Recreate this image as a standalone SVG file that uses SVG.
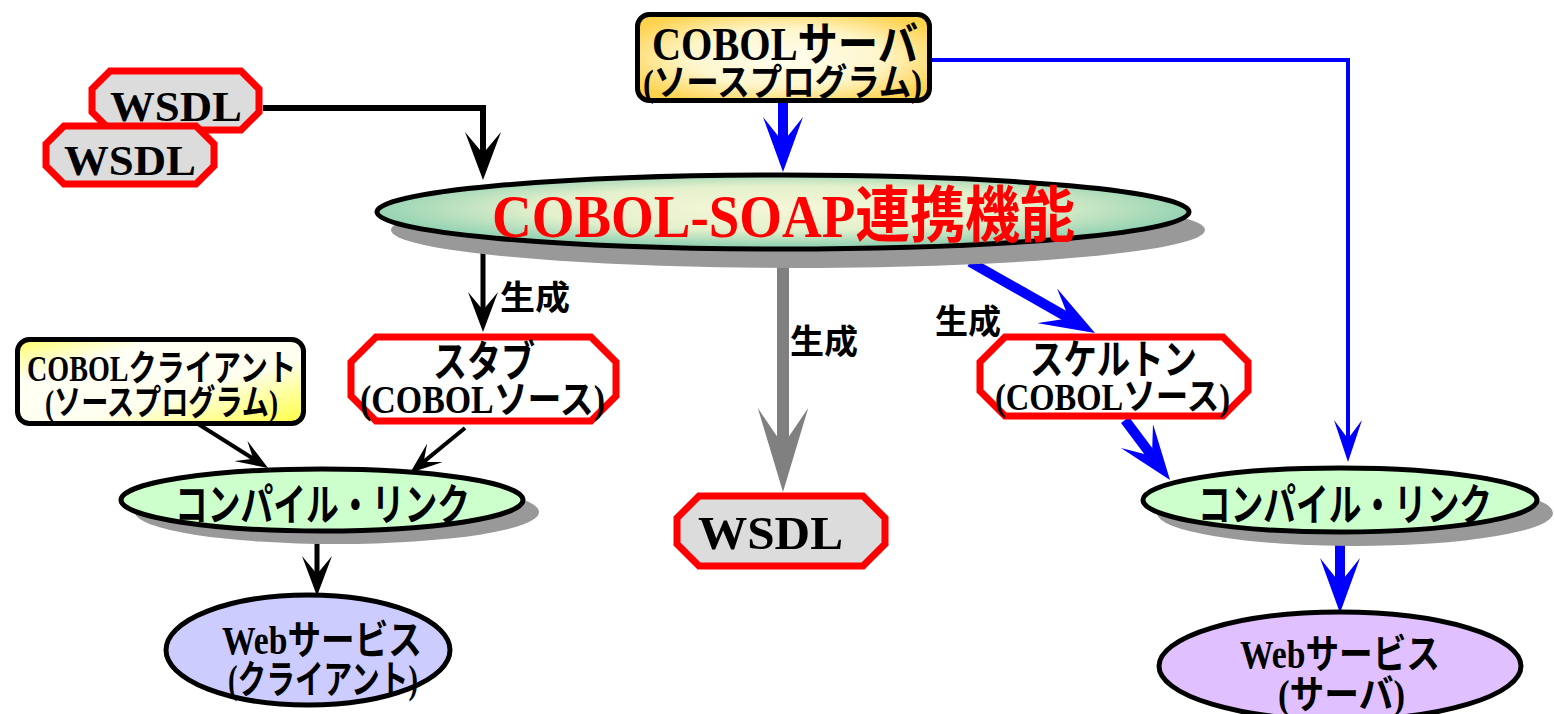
<svg xmlns="http://www.w3.org/2000/svg" width="1554" height="714" viewBox="0 0 1554 714">
<style>
.t{font-family:"Liberation Serif","Noto Sans CJK JP",serif;font-weight:bold;fill:#000}
.j{font-family:"Noto Sans CJK JP","Noto Sans CJK SC",sans-serif;font-weight:bold;fill:#000}
.oct{stroke:#ff0000;stroke-width:7;stroke-linejoin:miter}
.shadow{fill:#999999}
.ell{stroke:#000;stroke-width:5}
.box{stroke:#000;stroke-width:5}
.cb{fill:none;stroke:#000}
.cbl{fill:none;stroke:#0000ff}
.cg{fill:none;stroke:#808080}
</style>
<defs>
<radialGradient id="gSoap" cx="0.5" cy="0.45" r="0.5">
<stop offset="0" stop-color="#f6f7d8"/>
<stop offset="0.6" stop-color="#e4f0cc"/>
<stop offset="1" stop-color="#98d4b4"/>
</radialGradient>
<radialGradient id="gServer" cx="0.5" cy="0.5" r="0.6">
<stop offset="0" stop-color="#fffef0"/>
<stop offset="0.55" stop-color="#fff6cc"/>
<stop offset="1" stop-color="#ffd24d"/>
</radialGradient>
<linearGradient id="gClient" x1="0" y1="0" x2="1" y2="1">
<stop offset="0" stop-color="#ffff66"/>
<stop offset="0.25" stop-color="#fffff4"/>
<stop offset="0.6" stop-color="#fffff0"/>
<stop offset="1" stop-color="#ffff40"/>
</linearGradient>
<marker id="mBlack" viewBox="-8 -3 8 6" markerWidth="8" markerHeight="6" refX="-4" refY="0" orient="auto" markerUnits="strokeWidth">
<path d="M0,0 L-8,-3 L-4.4,0 L-8,3 Z" fill="#000"/>
</marker>
<marker id="mBlue" viewBox="-5.5 -2 5.5 4" markerWidth="5.5" markerHeight="4" refX="-2.75" refY="0" orient="auto" markerUnits="strokeWidth">
<path d="M0,0 L-5.5,-2 L-3,0 L-5.5,2 Z" fill="#0000ff"/>
</marker>
<marker id="mBlueThin" viewBox="-10.5 -3.5 10.5 7" markerWidth="10.5" markerHeight="7" refX="-5.25" refY="0" orient="auto" markerUnits="strokeWidth">
<path d="M0,0 L-10.5,-3.5 L-5.8,0 L-10.5,3.5 Z" fill="#0000ff"/>
</marker>
<marker id="mGray" viewBox="-7 -2.1 7 4.2" markerWidth="7" markerHeight="4.2" refX="-3.5" refY="0" orient="auto" markerUnits="strokeWidth">
<path d="M0,0 L-7,-2.1 L-3.9,0 L-7,2.1 Z" fill="#808080"/>
</marker>
</defs>

<g id="connectors">
<path class="cb" d="M263,108 H483 V156" stroke-width="6" marker-end="url(#mBlack)"/>
<path class="cb" d="M483,250 V312" stroke-width="5" marker-end="url(#mBlack)"/>
<path class="cb" d="M195,422 L254.5,459.5" stroke-width="4" marker-end="url(#mBlack)"/>
<path class="cb" d="M465,428 L422.4,462.9" stroke-width="4" marker-end="url(#mBlack)"/>
<path class="cb" d="M317,532 V576" stroke-width="5" marker-end="url(#mBlack)"/>
<path class="cbl" d="M783,103 V144.5" stroke-width="10" marker-end="url(#mBlue)"/>
<path class="cbl" d="M970,262 L1071.1,319.4" stroke-width="10" marker-end="url(#mBlue)"/>
<path class="cbl" d="M1125,420 L1153.5,458" stroke-width="10" marker-end="url(#mBlue)"/>
<path class="cbl" d="M1340,533 V585.5" stroke-width="10" marker-end="url(#mBlue)"/>
<path class="cbl" d="M932,60 H1348 V441" stroke-width="4" marker-end="url(#mBlueThin)"/>
<path class="cg" d="M783,250 V450" stroke-width="12" marker-end="url(#mGray)"/>
<text class="j" x="500" y="309" font-size="33" textLength="70" lengthAdjust="spacingAndGlyphs">生成</text>
<text class="j" x="790" y="353" font-size="33" textLength="68" lengthAdjust="spacingAndGlyphs">生成</text>
<text class="j" x="935" y="333" font-size="33" textLength="66" lengthAdjust="spacingAndGlyphs">生成</text>
</g>

<g id="wsdl-in-back">
<path class="oct" fill="#dcdcdc" d="M110,71 H241 L259,89 V112 L241,130 H110 L92,112 V89 Z"/>
<text class="t" x="110" y="121" font-size="43" textLength="132" lengthAdjust="spacingAndGlyphs">WSDL</text>
</g>
<g id="wsdl-in-front">
<path class="oct" fill="#dcdcdc" d="M64,126 H196 L214,144 V166 L196,184 H64 L46,166 V144 Z"/>
<text class="t" x="64" y="175" font-size="43" textLength="132" lengthAdjust="spacingAndGlyphs">WSDL</text>
</g>

<g id="cobol-server">
<rect class="box" x="637.5" y="14.5" width="292" height="86" rx="12" fill="url(#gServer)"/>
<text class="t" x="652" y="60" font-size="46" textLength="266" lengthAdjust="spacingAndGlyphs">COBOLサーバ</text>
<text class="t" x="643" y="96" font-size="37" textLength="279" lengthAdjust="spacingAndGlyphs">(ソースプログラム)</text>
</g>

<g id="cobol-soap">
<ellipse class="shadow" cx="798" cy="230" rx="407" ry="38"/>
<ellipse class="ell" cx="783" cy="212" rx="406" ry="37" fill="url(#gSoap)"/>
<text class="t" x="492" y="237" font-size="61" style="fill:#ff0000" textLength="583" lengthAdjust="spacingAndGlyphs">COBOL-SOAP連携機能</text>
</g>

<g id="stub">
<path class="oct" fill="#ffffff" d="M376,337 H591 L616,362 V396 L591,421 H376 L351,396 V362 Z"/>
<text class="t" x="433" y="377" font-size="43" textLength="102" lengthAdjust="spacingAndGlyphs">スタブ</text>
<text class="t" x="360" y="413" font-size="39" textLength="245" lengthAdjust="spacingAndGlyphs">(COBOLソース)</text>
</g>

<g id="cobol-client">
<rect class="box" x="17.5" y="339.5" width="286" height="84" rx="12" fill="url(#gClient)"/>
<text class="t" x="27" y="381" font-size="36" textLength="269" lengthAdjust="spacingAndGlyphs">COBOLクライアント</text>
<text class="t" x="45" y="415" font-size="35" textLength="233" lengthAdjust="spacingAndGlyphs">(ソースプログラム)</text>
</g>

<g id="compile-link-client">
<ellipse class="shadow" cx="337" cy="512" rx="202" ry="32"/>
<ellipse class="ell" cx="322" cy="500" rx="201" ry="31" fill="#ccffcc"/>
<text class="j" x="175" y="521" font-size="44" textLength="295" lengthAdjust="spacingAndGlyphs">コンパイル・リンク</text>
</g>

<g id="web-service-client">
<ellipse class="ell" cx="308" cy="650" rx="142" ry="55" fill="#ccccff"/>
<text class="t" x="222" y="654" font-size="40" textLength="200" lengthAdjust="spacingAndGlyphs">Webサービス</text>
<text class="t" x="228" y="693" font-size="39" textLength="190" lengthAdjust="spacingAndGlyphs">(クライアント)</text>
</g>

<g id="wsdl-out">
<path class="oct" fill="#dcdcdc" d="M699,496 H863 L885,518 V544 L863,566 H699 L677,544 V518 Z"/>
<text class="t" x="698" y="549" font-size="47" textLength="145" lengthAdjust="spacingAndGlyphs">WSDL</text>
</g>

<g id="skeleton">
<path class="oct" fill="#ffffff" d="M1005,337 H1223 L1248,362 V391 L1223,416 H1005 L980,391 V362 Z"/>
<text class="t" x="1030" y="374" font-size="41" textLength="167" lengthAdjust="spacingAndGlyphs">スケルトン</text>
<text class="t" x="995" y="410" font-size="37" textLength="235" lengthAdjust="spacingAndGlyphs">(COBOLソース)</text>
</g>

<g id="compile-link-server">
<ellipse class="shadow" cx="1355" cy="513" rx="198" ry="33"/>
<ellipse class="ell" cx="1340" cy="500" rx="197" ry="32" fill="#ccffcc"/>
<text class="j" x="1198" y="521" font-size="44" textLength="294" lengthAdjust="spacingAndGlyphs">コンパイル・リンク</text>
</g>

<g id="web-service-server">
<ellipse class="ell" cx="1340" cy="666" rx="181" ry="54" fill="#e0c0ff"/>
<text class="t" x="1240" y="668" font-size="40" textLength="200" lengthAdjust="spacingAndGlyphs">Webサービス</text>
<text class="t" x="1278" y="708" font-size="39" textLength="127" lengthAdjust="spacingAndGlyphs">(サーバ)</text>
</g>
</svg>
